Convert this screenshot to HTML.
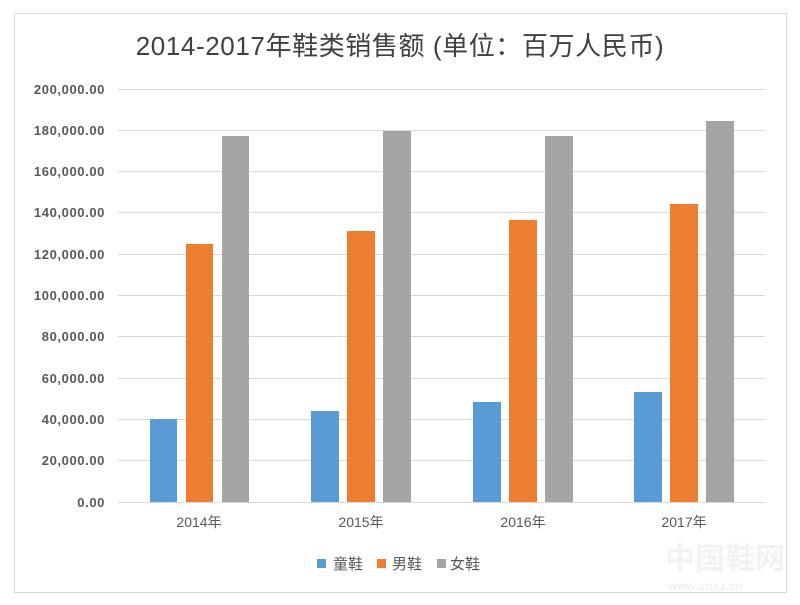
<!DOCTYPE html>
<html><head><meta charset="utf-8"><style>
html,body{margin:0;padding:0;background:#fff;}
svg{display:block;}
text{font-family:"Liberation Sans","Noto Sans CJK SC",sans-serif;fill:#595959;}
</style></head><body>
<svg width="800" height="605" viewBox="0 0 800 605" xmlns="http://www.w3.org/2000/svg">
<rect x="14.5" y="13.5" width="772" height="579" fill="#fff" stroke="#d9d9d9"/>
<text x="400" y="55" text-anchor="middle" font-size="26" letter-spacing="0.6" style="fill:#404040">2014-2017年鞋类销售额 (单位：百万人民币)</text>
<g stroke="#d9d9d9" stroke-width="1">
<line x1="118" x2="765" y1="89.5" y2="89.5"/><line x1="118" x2="765" y1="130.5" y2="130.5"/>
<line x1="118" x2="765" y1="171.5" y2="171.5"/><line x1="118" x2="765" y1="212.5" y2="212.5"/>
<line x1="118" x2="765" y1="254.5" y2="254.5"/><line x1="118" x2="765" y1="295.5" y2="295.5"/>
<line x1="118" x2="765" y1="336.5" y2="336.5"/><line x1="118" x2="765" y1="378.5" y2="378.5"/>
<line x1="118" x2="765" y1="419.5" y2="419.5"/><line x1="118" x2="765" y1="460.5" y2="460.5"/>
<line x1="118" x2="765" y1="502.5" y2="502.5"/>
</g>
<g font-size="13" text-anchor="end" font-weight="bold" letter-spacing="0.6">
<text x="105" y="94">200,000.00</text><text x="105" y="135">180,000.00</text>
<text x="105" y="176">160,000.00</text><text x="105" y="217">140,000.00</text>
<text x="105" y="259">120,000.00</text><text x="105" y="300">100,000.00</text>
<text x="105" y="341">80,000.00</text><text x="105" y="383">60,000.00</text>
<text x="105" y="424">40,000.00</text><text x="105" y="465">20,000.00</text>
<text x="105" y="507">0.00</text>
</g>
<g fill="#5b9bd5">
<rect x="150" y="419" width="27" height="83"/><rect x="311" y="411" width="28" height="91"/>
<rect x="473" y="402" width="28" height="100"/><rect x="634" y="392" width="28" height="110"/>
</g>
<g fill="#ed7d31">
<rect x="186" y="244" width="27" height="258"/><rect x="347" y="231" width="28" height="271"/>
<rect x="509" y="220" width="28" height="282"/><rect x="670" y="204" width="28" height="298"/>
</g>
<g fill="#a5a5a5">
<rect x="222" y="136" width="27" height="366"/><rect x="383" y="131" width="28" height="371"/>
<rect x="545" y="136" width="28" height="366"/><rect x="706" y="121" width="28" height="381"/>
</g>
<g font-size="14" text-anchor="middle">
<text x="199" y="527">2014年</text><text x="361" y="527">2015年</text>
<text x="523" y="527">2016年</text><text x="684" y="527">2017年</text>
</g>
<g font-size="15">
<rect x="317" y="559" width="9" height="9" fill="#5b9bd5"/><text x="333" y="569">童鞋</text>
<rect x="377" y="559" width="9" height="9" fill="#ed7d31"/><text x="392" y="569">男鞋</text>
<rect x="437" y="559" width="9" height="9" fill="#a5a5a5"/><text x="450" y="569">女鞋</text>
</g>
<text x="665" y="569" font-size="30" font-weight="bold" style="fill:#f2f2f2">中国鞋网</text>
<text x="668" y="590" font-size="12" font-weight="bold" style="fill:#f0f0f0">www.cnxz.cn</text>
</svg>
</body></html>
